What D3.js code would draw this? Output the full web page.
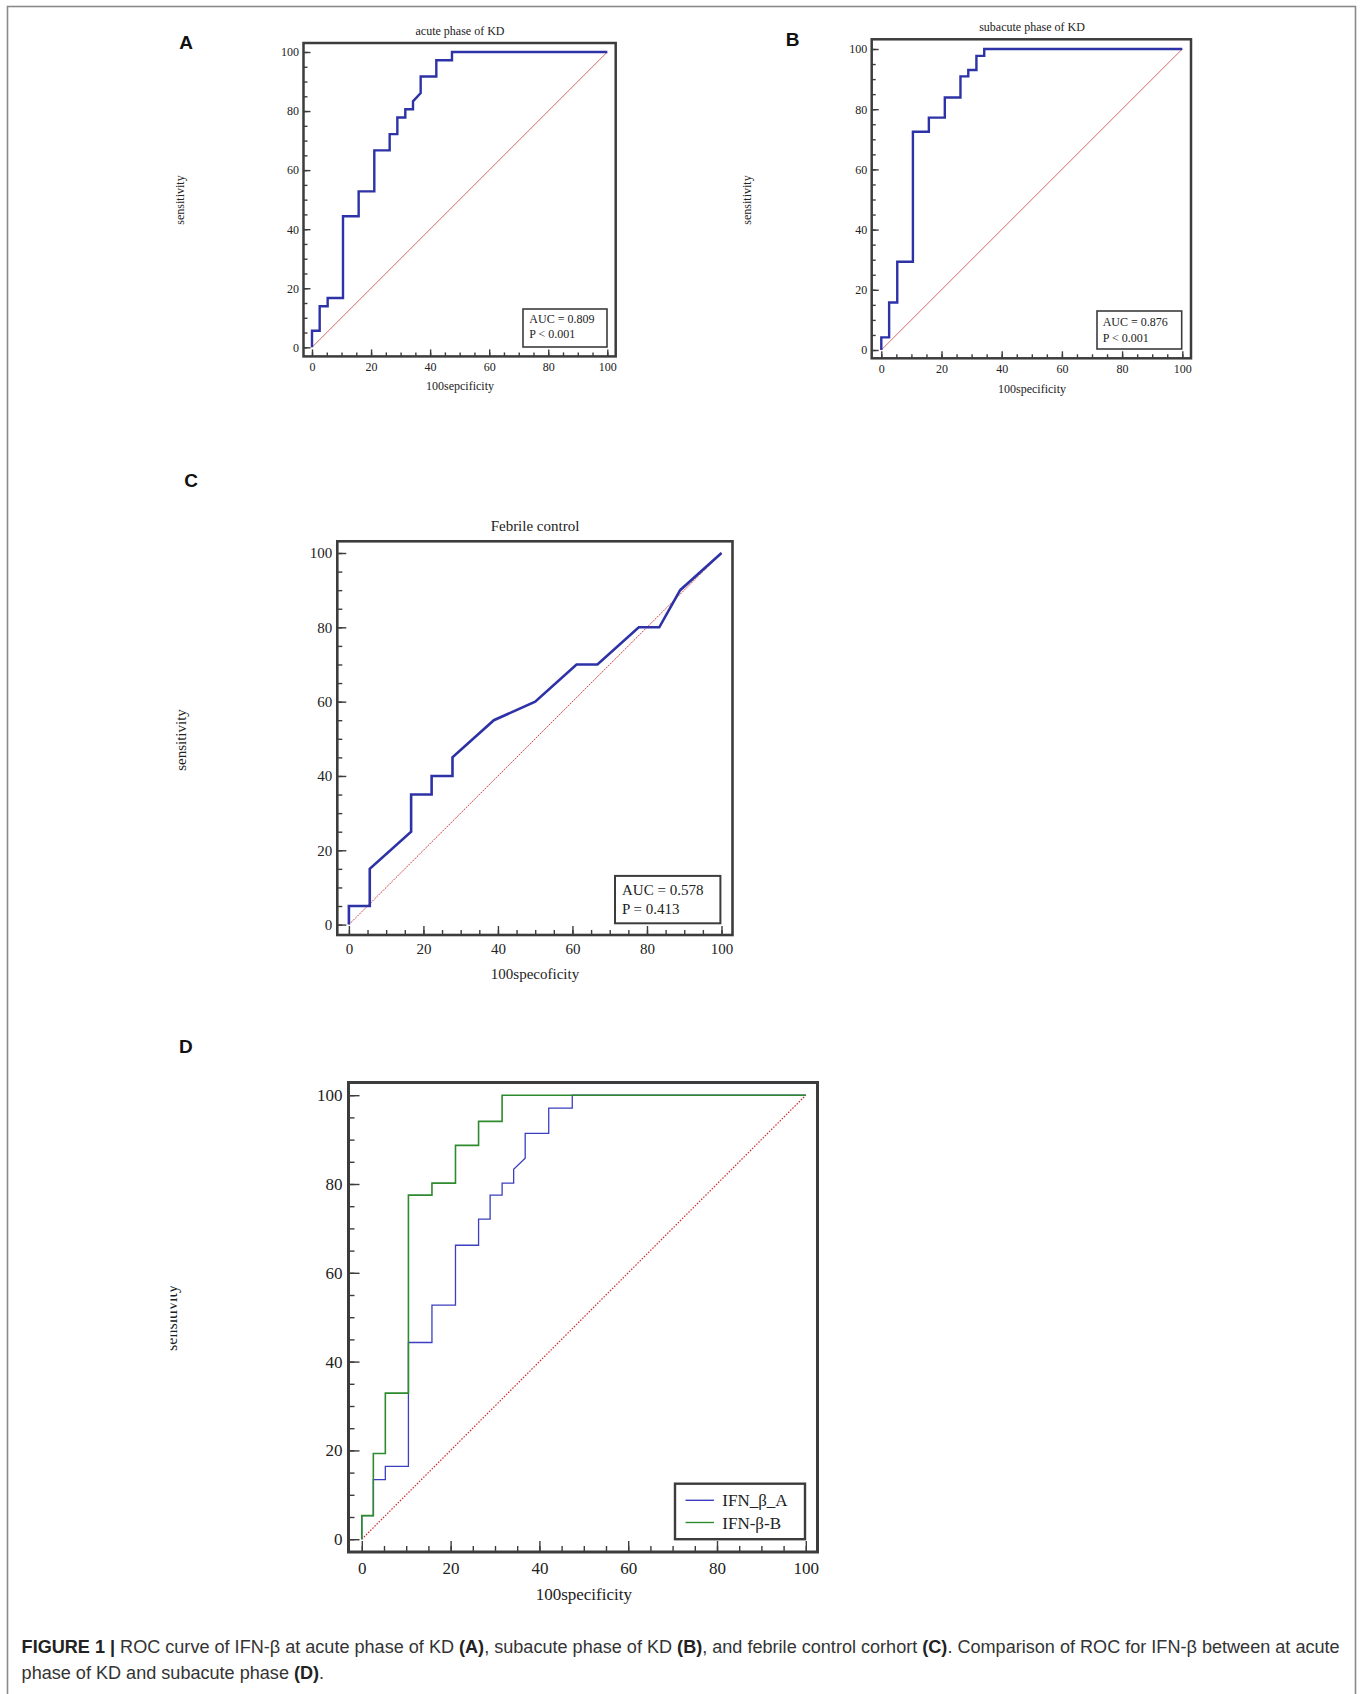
<!DOCTYPE html>
<html>
<head>
<meta charset="utf-8">
<script src="https://cdn.jsdelivr.net/npm/d3@7"></script>
<style>
  html, body { margin: 0; padding: 0; background: #fff; }
  svg { display: block; }
</style>
</head>
<body>
<script>
// ROC curves (x = 100 - specificity, y = sensitivity)
var specA = [0, 0, 2.6, 2.6, 5.3, 5.3, 10.5, 10.5, 15.8, 15.8, 21.1, 21.1, 26.3, 26.3, 28.9, 28.9, 31.6, 31.6, 34.2, 34.2, 36.8, 36.8, 42.1, 42.1, 47.4, 47.4, 100];
var sensA = [0, 5.6, 5.6, 13.9, 13.9, 16.7, 16.7, 44.4, 44.4, 52.8, 52.8, 66.7, 66.7, 72.2, 72.2, 77.8, 77.8, 80.6, 80.6, 83.3, 86.1, 91.7, 91.7, 97.2, 97.2, 100, 100];

var specB = [0, 0, 2.6, 2.6, 5.3, 5.3, 10.5, 10.5, 15.8, 15.8, 21.1, 21.1, 26.3, 26.3, 28.9, 28.9, 31.6, 31.6, 34.2, 34.2, 100];
var sensB = [0, 4.2, 4.2, 15.8, 15.8, 29.3, 29.3, 72.5, 72.5, 77.2, 77.2, 83.9, 83.9, 90.9, 90.9, 93, 93, 97.7, 97.7, 100, 100];

var specC = [0, 0, 5.6, 5.6, 16.7, 16.7, 22.2, 22.2, 27.8, 27.8, 38.9, 50, 61.1, 66.7, 77.8, 83.3, 88.9, 100];
var sensC = [0, 5, 5, 15, 25, 35, 35, 40, 40, 45, 55, 60, 70, 70, 80, 80, 90, 100];

var specD_A = [0, 0, 2.6, 2.6, 5.3, 5.3, 10.5, 10.5, 15.8, 15.8, 21.1, 21.1, 26.3, 26.3, 28.9, 28.9, 31.6, 31.6, 34.2, 34.2, 36.8, 36.8, 42.1, 42.1, 47.4, 47.4, 100];
var sensD_A = [0, 5.3, 5.3, 13.4, 13.4, 16.4, 16.4, 44.3, 44.3, 52.7, 52.7, 66.2, 66.2, 72.1, 72.1, 77.5, 77.5, 80.2, 80.2, 83.3, 85.8, 91.4, 91.4, 97.1, 97.1, 100, 100];
var specD_B = [0, 0, 2.6, 2.6, 5.3, 5.3, 10.5, 10.5, 15.8, 15.8, 21.1, 21.1, 26.3, 26.3, 31.6, 31.6, 100];
var sensD_B = [0, 5.3, 5.3, 19.3, 19.3, 32.9, 32.9, 77.5, 77.5, 80.2, 80.2, 88.7, 88.7, 94.1, 94.1, 100, 100];

var majorTicks = [0, 20, 40, 60, 80, 100];
var minorTicks = d3.range(0, 101, 5);
var diagX = [0, 100];
var diagY = [0, 100];

var blue = '#2d32a6', green = '#2e8a2e', frameCol = '#3c3c3c', txt = '#222';
var serif = '"Liberation Serif", "Times New Roman", serif';

var svg = d3.select('body').append('svg')
  .attr('width', 1362)
  .attr('height', 1694);

// outer border of the figure
svg.append('rect')
  .attr('x', 7.5).attr('y', 6.5)
  .attr('width', 1348).attr('height', 1720)
  .attr('fill', 'none').attr('stroke', '#8a8a8a').attr('stroke-width', 1.6);

// the y title of panel D is cut on its left side in the original
var clipD = svg.append('defs').append('clipPath').attr('id', 'clipD');
clipD.append('rect').attr('x', 170.5).attr('y', 1200).attr('width', 40).attr('height', 250);

function drawPanel(p) {
  var g = svg.append('g');
  var x = d3.scaleLinear().domain([0, 100]).range(p.xr);
  var y = d3.scaleLinear().domain([0, 100]).range(p.yr);
  var f = p.frame;

  // diagonal reference line
  var diag = d3.line().x(function(d, i) { return x(diagX[i]); }).y(function(d, i) { return y(diagY[i]); });
  g.append('path')
    .attr('d', diag(diagX))
    .attr('fill', 'none')
    .attr('stroke', p.diagColor)
    .attr('stroke-width', p.diagWidth)
    .attr('stroke-dasharray', p.diagDash || null);

  // curves
  p.curves.forEach(function(c) {
    var line = d3.line().x(function(d, i) { return x(c.xs[i]); }).y(function(d, i) { return y(c.ys[i]); });
    g.append('path')
      .attr('d', line(c.xs))
      .attr('fill', 'none')
      .attr('stroke', c.color)
      .attr('stroke-width', c.width)
      .attr('stroke-linejoin', 'miter');
  });

  // ticks pointing inward from the frame
  var yMinor = g.append('g').attr('transform', 'translate(' + f[0] + ',0)')
    .call(d3.axisLeft(y).tickValues(minorTicks).tickSize(-p.minorLen).tickFormat(''));
  var yMajor = g.append('g').attr('transform', 'translate(' + f[0] + ',0)')
    .call(d3.axisLeft(y).tickValues(majorTicks).tickSize(-p.majorLen).tickPadding(p.yPad).tickFormat(d3.format('d')));
  var xMinor = g.append('g').attr('transform', 'translate(0,' + f[3] + ')')
    .call(d3.axisBottom(x).tickValues(minorTicks).tickSize(-p.minorLen).tickFormat(''));
  var xMajor = g.append('g').attr('transform', 'translate(0,' + f[3] + ')')
    .call(d3.axisBottom(x).tickValues(majorTicks).tickSize(-p.majorLen).tickPadding(p.xBase - f[3] - 0.71 * p.fs).tickFormat(d3.format('d')));
  [yMinor, yMajor, xMinor, xMajor].forEach(function(a) {
    a.select('.domain').remove();
    a.selectAll('line').attr('stroke', frameCol).attr('stroke-width', 1.4);
    a.selectAll('text').attr('font-family', serif).attr('font-size', p.fs).attr('fill', txt);
  });

  // frame
  g.append('rect')
    .attr('x', f[0]).attr('y', f[1])
    .attr('width', f[2] - f[0]).attr('height', f[3] - f[1])
    .attr('fill', 'none').attr('stroke', frameCol).attr('stroke-width', p.frameW);

  if (p.title) {
    g.append('text').attr('x', p.title[1]).attr('y', p.title[2]).text(p.title[0])
      .attr('text-anchor', 'middle').attr('font-family', serif).attr('font-size', p.fs).attr('fill', txt);
  }
  g.append('text').attr('x', p.xlab[1]).attr('y', p.xlab[2]).text(p.xlab[0])
    .attr('text-anchor', 'middle').attr('font-family', serif).attr('font-size', p.fs).attr('fill', txt);
  var ylg = g.append('g');
  if (p.ylabClip) ylg.attr('clip-path', 'url(#' + p.ylabClip + ')');
  ylg.append('text')
    .attr('transform', 'translate(' + p.ylab[0] + ',' + p.ylab[1] + ') rotate(-90)')
    .text('sensitivity')
    .attr('text-anchor', 'middle').attr('font-family', serif).attr('font-size', p.ylab[2]).attr('fill', txt);

  g.append('text').attr('x', p.letter[1]).attr('y', p.letter[2]).text(p.letter[0])
    .attr('text-anchor', 'middle').attr('font-family', '"Liberation Sans", Arial, sans-serif')
    .attr('font-weight', 'bold').attr('font-size', 19).attr('fill', '#111');

  if (p.box) {
    var b = p.box;
    g.append('rect').attr('x', b.x).attr('y', b.y).attr('width', b.w).attr('height', b.h)
      .attr('fill', '#fff').attr('stroke', frameCol).attr('stroke-width', p.boxW);
    b.lines.forEach(function(t, i) {
      if (b.keys) {
        g.append('line').attr('x1', b.kx[0]).attr('x2', b.kx[1]).attr('y1', b.ky[i]).attr('y2', b.ky[i])
          .attr('stroke', b.keys[i]).attr('stroke-width', 1.4);
      }
      g.append('text').attr('x', b.tx).attr('y', b.ty[i]).text(t)
        .attr('font-family', serif).attr('font-size', p.fs).attr('fill', txt);
    });
  }
}

drawPanel({
  frame: [303.5, 43, 615.7, 356.4], xr: [312, 607.3], yr: [347.3, 52], fs: 12,
  majorLen: 7, minorLen: 4, frameW: 2.5, yPad: 4.5, xBase: 371,
  diagColor: '#d46a6a', diagWidth: 1,
  curves: [{ xs: specA, ys: sensA, color: blue, width: 2.4 }],
  title: ['acute phase of KD', 460, 35], xlab: ['100sepcificity', 460, 390],
  ylab: [183.5, 200, 12], letter: ['A', 186, 48.5], boxW: 1.6,
  box: { x: 523, y: 309, w: 84, h: 38, lines: ['AUC = 0.809', 'P < 0.001'], tx: 529.3, ty: [323.3, 338.3] }
});

drawPanel({
  frame: [871.7, 39.3, 1191, 358.3], xr: [881.3, 1182.3], yr: [350, 49], fs: 12,
  majorLen: 7, minorLen: 4, frameW: 2.5, yPad: 4.5, xBase: 373,
  diagColor: '#d46a6a', diagWidth: 1,
  curves: [{ xs: specB, ys: sensB, color: blue, width: 2.4 }],
  title: ['subacute phase of KD', 1032, 31], xlab: ['100specificity', 1032, 393],
  ylab: [750.5, 200, 12], letter: ['B', 792.7, 45.7], boxW: 1.6,
  box: { x: 1097, y: 311, w: 84.7, h: 38, lines: ['AUC = 0.876', 'P < 0.001'], tx: 1102.7, ty: [326, 341.7] }
});

drawPanel({
  frame: [337.3, 541.3, 732.5, 935], xr: [348.9, 721.5], yr: [924.6, 553], fs: 15,
  majorLen: 9, minorLen: 5, frameW: 2.6, yPad: 5, xBase: 954,
  diagColor: '#d04040', diagWidth: 1, diagDash: '2,1',
  curves: [{ xs: specC, ys: sensC, color: blue, width: 2.6 }],
  title: ['Febrile control', 535, 531], xlab: ['100specoficity', 535, 979],
  ylab: [185.5, 740, 15], letter: ['C', 191.2, 487.4], boxW: 2,
  box: { x: 615, y: 875.9, w: 105.4, h: 47.4, lines: ['AUC = 0.578', 'P = 0.413'], tx: 622, ty: [894.5, 914] }
});

drawPanel({
  frame: [348.5, 1082.5, 817.5, 1552], xr: [361.8, 805.8], yr: [1539.2, 1095.2], fs: 17,
  majorLen: 11, minorLen: 6, frameW: 3, yPad: 6, xBase: 1573.5,
  diagColor: '#cc2a2a', diagWidth: 1.2, diagDash: '1.5,1.5',
  curves: [
    { xs: specD_A, ys: sensD_A, color: '#3b3fc0', width: 1.3 },
    { xs: specD_B, ys: sensD_B, color: green, width: 1.6 }
  ],
  xlab: ['100specificity', 583.8, 1600],
  ylab: [177, 1318, 16], ylabClip: 'clipD', letter: ['D', 185.8, 1053.4], boxW: 2.4,
  box: { x: 675, y: 1483.7, w: 130, h: 55.5, lines: ['IFN_β_A', 'IFN-β-B'], tx: 722.3, ty: [1506, 1528.5],
         keys: ['#3b3fc0', green], kx: [685.5, 714], ky: [1500.3, 1522.5] }
});

// caption
var cap = svg.append('g')
  .attr('font-family', '"Liberation Sans", Arial, sans-serif')
  .attr('fill', '#333');
var capLines = [
  [['FIGURE 1 | ', true], ['ROC curve of IFN-β at acute phase of KD ', false], ['(A)', true], [', subacute phase of KD ', false], ['(B)', true], [', and febrile control corhort ', false], ['(C)', true], ['. Comparison of ROC for IFN-β between at acute', false]],
  [['phase of KD and subacute phase ', false], ['(D)', true], ['.', false]]
];
var capBase = [1653.3, 1678.5];
var capTexts = capLines.map(function(parts, i) {
  var t = cap.append('text').attr('x', 21.6).attr('y', capBase[i]).attr('font-size', 18);
  parts.forEach(function(p) {
    t.append('tspan').text(p[0]).attr('font-weight', p[1] ? 'bold' : null).attr('fill', p[1] ? '#222' : null);
  });
  return t;
});
var w1 = capTexts[0].node().getComputedTextLength();
var fsCap = 18 * 1319 / w1;
capTexts.forEach(function(t) { t.attr('font-size', fsCap); });
</script>
</body>
</html>
